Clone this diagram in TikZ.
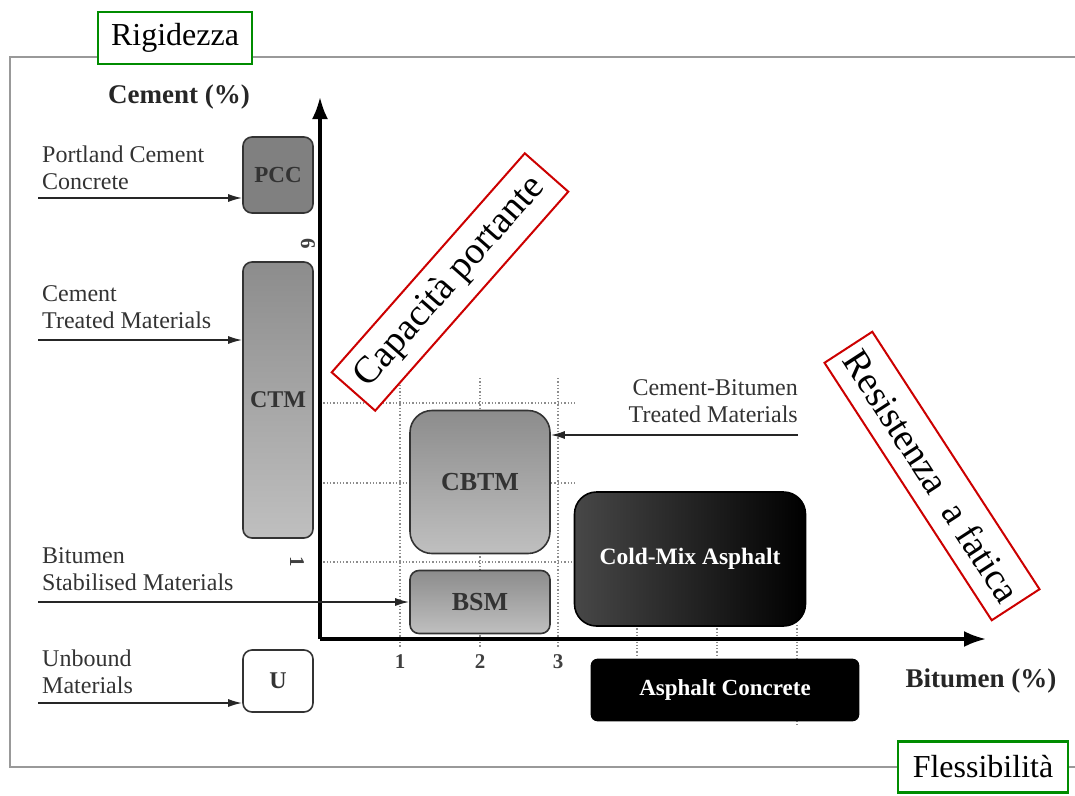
\documentclass[tikz,border=0pt]{standalone}
\usepackage{fontspec}
\setmainfont{Liberation Serif}
\usetikzlibrary{arrows.meta}
\begin{document}
\begin{tikzpicture}[x=1pt,y=-1pt,
  lbl/.style={font=\fontsize{24}{27.5}\selectfont, text=black!80, align=left, inner sep=0pt},
  arr/.style={line width=1.6pt, draw=black!85, -{Latex[length=14pt,width=8pt]}},
  mbox/.style={draw=black!80, line width=1.6pt, rounded corners=9pt, font=\fontsize{23}{24}\selectfont\bfseries, text=black!80, inner sep=0pt},
  tick/.style={font=\fontsize{21}{22}\selectfont\bfseries, text=black!75},
  dots/.style={dotted, line width=1.3pt, draw=black!45},
  redbox/.style={draw=red!80!black, line width=2pt, fill=white, inner xsep=4pt, inner ysep=2pt, font=\fontsize{38}{40}\selectfont},
  greenbox/.style={draw=green!55!black, line width=2.2pt, fill=white, inner sep=4pt, font=\fontsize{32}{34}\selectfont}
]
\useasboundingbox (0,0) rectangle (1075,795);
% frame
\draw[black!40, line width=1.3pt] (1075,57) -- (10,57) -- (10,767) -- (1075,767);
% dotted grid
\draw[dots] (320,403) -- (575,403);
\draw[dots] (320,483) -- (575,483);
\draw[dots] (320,562) -- (575,562);
\draw[dots] (400,378) -- (400,648);
\draw[dots] (480,378) -- (480,648);
\draw[dots] (558,378) -- (558,648);
\draw[dots] (637,625) -- (637,655);
\draw[dots] (717,625) -- (717,655);
\draw[dots] (797,625) -- (797,725);
% boxes
\node[mbox, fill=black!50, minimum width=70pt, minimum height=76pt] (pcc) at (278,175) {PCC};
\node[mbox, top color=black!45, bottom color=black!25, minimum width=70pt, minimum height=276pt, font=\fontsize{24}{26}\selectfont\bfseries] (ctm) at (278,400) {CTM};
\node[mbox, top color=black!45, bottom color=black!25, rounded corners=22pt, minimum width=140pt, minimum height=143pt, font=\fontsize{26}{28}\selectfont\bfseries] (cbtm) at (480,482) {CBTM};
\node[mbox, top color=black!45, bottom color=black!25, minimum width=140pt, minimum height=63pt, font=\fontsize{26}{28}\selectfont\bfseries] (bsm) at (480,602) {BSM};
\node[mbox, draw=black, rounded corners=22pt, shading angle=135, left color=black!72, right color=black, minimum width=231pt, minimum height=134pt, text=white, font=\fontsize{23.5}{25}\selectfont\bfseries] (cma) at (690,559) {Cold-Mix Asphalt};
\node[mbox, draw=black, fill=black, rounded corners=6pt, minimum width=267pt, minimum height=61pt, text=white, font=\fontsize{23}{25}\selectfont\bfseries] (ac) at (725,690) {Asphalt Concrete};
\node[mbox, fill=white, minimum width=70pt, minimum height=62pt, font=\fontsize{24}{26}\selectfont\bfseries] (u) at (278,681) {U};
% axes
\coordinate (O) at (320,639);
\coordinate (ytip) at (320,97);
\coordinate (xtip) at (986,639);
\draw[line width=3.2pt, -{Latex[length=22pt,width=16pt]}] (O) -- (ytip);
\draw[line width=3.2pt, -{Latex[length=22pt,width=16pt]}] (O) -- (xtip);
% axis labels
\node[font=\fontsize{27}{29}\selectfont\bfseries, text=black!85] (ylab) at (179,97) {Cement (\%)};
\node[font=\fontsize{27}{29}\selectfont\bfseries, text=black!85] (xlab) at (981,681) {Bitumen (\%)};
\node[tick, rotate=-90] (t6) at (308,244) {6};
\node[tick, rotate=-90] (t1) at (297,562) {1};
\node[tick] (x1) at (400,662) {1};
\node[tick] (x2) at (480,662) {2};
\node[tick] (x3) at (558,662) {3};
% left labels
\node[lbl, anchor=west] (lpcc) at (42,168) {Portland Cement\\Concrete};
\node[lbl, anchor=west] (lctm) at (42,307) {Cement\\Treated Materials};
\node[lbl, anchor=west] (lbsm) at (42,569) {Bitumen\\Stabilised Materials};
\node[lbl, anchor=west] (lu) at (42,672) {Unbound\\Materials};
\node[lbl, anchor=east, align=right] (lcbtm) at (798,401) {Cement-Bitumen\\Treated Materials};
% connectors
\coordinate (apcc) at (38,198);
\coordinate (actm) at (38,340);
\coordinate (absm) at (38,602);
\coordinate (au) at (38,703);
\coordinate (acbtm) at (798,435);
\draw[arr] (apcc) -- (apcc -| pcc.west);
\draw[arr] (actm) -- (actm -| ctm.west);
\draw[arr] (absm) -- (absm -| bsm.west);
\draw[arr] (au) -- (au -| u.west);
\draw[arr] (acbtm) -- (acbtm -| cbtm.east);
% red boxes
\node[redbox, rotate=48.6, minimum width=292pt, minimum height=58pt] (cap) at (450,282) {Capacità portante};
\node[redbox, rotate=-57, minimum width=307pt, minimum height=57pt] (res) at (932,476) {Resistenza\ \ a fatica};
% green boxes
\node[greenbox, minimum width=154pt, minimum height=52pt] (rig) at (175,38) {Rigidezza};
\node[greenbox, minimum width=170pt, minimum height=51pt] (fle) at (983,767) {Flessibilità};
\end{tikzpicture}
\end{document}
